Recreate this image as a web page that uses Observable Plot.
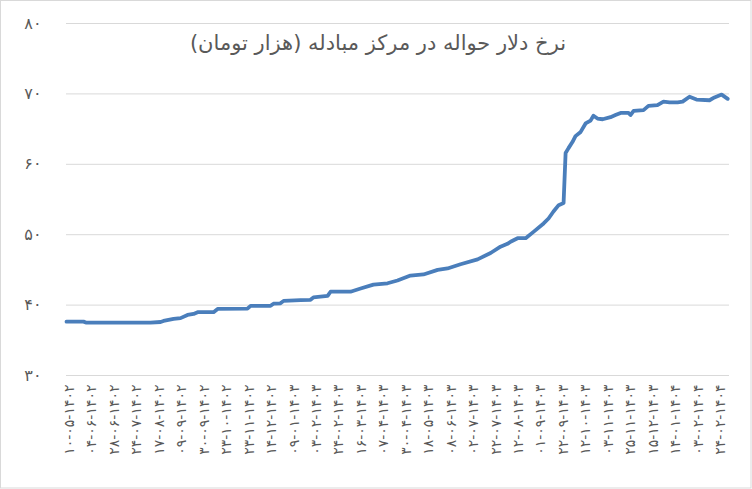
<!DOCTYPE html>
<html><head><meta charset="utf-8">
<script src="https://cdn.jsdelivr.net/npm/d3@7"></script>
<script src="https://cdn.jsdelivr.net/npm/@observablehq/plot@0.6"></script>
<style>body{margin:0;background:#fff}</style>
</head><body><div id="chart"></div>
<script>
const title = "نرخ دلار حواله در مرکز مبادله (هزار تومان)";
const dateLabels = [
  "۱۰-۰۵-۱۴۰۲","۰۴-۰۶-۱۴۰۲","۲۸-۰۶-۱۴۰۲","۲۴-۰۷-۱۴۰۲","۱۷-۰۸-۱۴۰۲","۰۹-۰۹-۱۴۰۲",
  "۳۰-۰۹-۱۴۰۲","۲۳-۱۰-۱۴۰۲","۲۳-۱۱-۱۴۰۲","۱۴-۱۲-۱۴۰۲","۰۹-۰۱-۱۴۰۳","۰۳-۰۲-۱۴۰۳",
  "۲۴-۰۲-۱۴۰۳","۱۶-۰۳-۱۴۰۳","۰۷-۰۴-۱۴۰۳","۳۰-۰۴-۱۴۰۳","۱۸-۰۵-۱۴۰۳","۰۸-۰۶-۱۴۰۳",
  "۰۲-۰۷-۱۴۰۳","۲۲-۰۷-۱۴۰۳","۱۲-۰۸-۱۴۰۳","۰۱-۰۹-۱۴۰۳","۲۲-۰۹-۱۴۰۳","۱۲-۱۰-۱۴۰۳",
  "۰۳-۱۱-۱۴۰۳","۲۵-۱۱-۱۴۰۳","۱۵-۱۲-۱۴۰۳","۱۴-۰۱-۱۴۰۴","۰۳-۰۲-۱۴۰۴","۲۴-۰۲-۱۴۰۴"
];
// position along the date axis (in label steps) and rate (thousand tomans)
const pos = [0,0.76,0.89,3.74,4.19,4.32,4.77,5.08,5.39,5.66,5.84,6.55,6.73,8.06,8.20,9.09,9.22,9.53,9.67,
  10.42,10.87,11.00,11.31,11.63,11.76,12.65,13.10,13.67,14.30,14.74,15.32,15.90,16.53,16.97,17.55,18.31,
  18.89,19.33,19.64,19.78,20.09,20.45,20.80,21.25,21.47,21.69,21.92,22.14,22.23,22.36,22.54,22.67,22.90,
  23.12,23.34,23.47,23.65,23.88,24.23,24.45,24.68,25.03,25.12,25.26,25.70,25.92,26.32,26.59,26.86,27.22,
  27.44,27.75,28.06,28.64,28.86,29.18,29.45];
const rate = [37.65,37.65,37.5,37.5,37.6,37.75,38.05,38.15,38.6,38.75,39.0,39.0,39.45,39.5,39.9,39.9,40.2,40.25,40.6,
  40.7,40.75,41.1,41.2,41.3,41.9,41.9,42.35,42.9,43.1,43.5,44.2,44.35,45.0,45.2,45.8,46.5,
  47.4,48.3,48.7,49.0,49.5,49.5,50.4,51.6,52.3,53.3,54.2,54.5,61.6,62.3,63.2,64.0,64.6,
  65.8,66.2,66.9,66.5,66.4,66.7,67.0,67.3,67.3,67.0,67.6,67.7,68.3,68.4,68.9,68.8,68.8,
  68.9,69.6,69.2,69.1,69.5,69.9,69.3];
const yTicks = [30,40,50,60,70,80];
const fa = s => String(s).replace(/\d/g, d => "۰۱۲۳۴۵۶۷۸۹"[d]);
const data = pos.map((p, i) => ({p, v: rate[i]}));

const chart = Plot.plot({
  width: 752, height: 489,
  marginLeft: 66, marginRight: 23, marginTop: 23, marginBottom: 114,
  style: {fontFamily: "DejaVu Sans", color: "#595959", background: "#fff"},
  x: {domain: [0, 29.53]},
  y: {domain: [30, 80]},
  marks: [
    Plot.gridY(yTicks, {stroke: "#d9d9d9", strokeOpacity: 1, strokeWidth: 1}),
    Plot.axisY(yTicks, {tickFormat: fa, tickSize: 0, tickPadding: 25, fontSize: 16, fill: "#595959", label: null}),
    Plot.axisX(d3.range(dateLabels.length), {tickFormat: i => dateLabels[i], tickRotate: -90, tickSize: 0, tickPadding: 9, dx: 3, fontSize: 14, fill: "#595959", label: null}),
    Plot.line(data, {x: "p", y: "v", stroke: "#4a7ebb", strokeWidth: 3.8, strokeLinejoin: "round"}),
    Plot.text([title], {text: d => "\u200F" + d + "\u200F", frameAnchor: "top", dx: -20, dy: 20, fontSize: 21, fill: "#595959", lineAnchor: "middle"})
  ]
});
d3.select(chart).selectAll('g[aria-label="x-axis tick label"] text').style("letter-spacing", "1.2px");
d3.select(chart).append("rect").attr("x", 0.5).attr("y", 0.5).attr("width", 750.5).attr("height", 487.5)
  .attr("fill", "none").attr("stroke", "#d9d9d9");
document.getElementById("chart").appendChild(chart);
</script></body></html>
